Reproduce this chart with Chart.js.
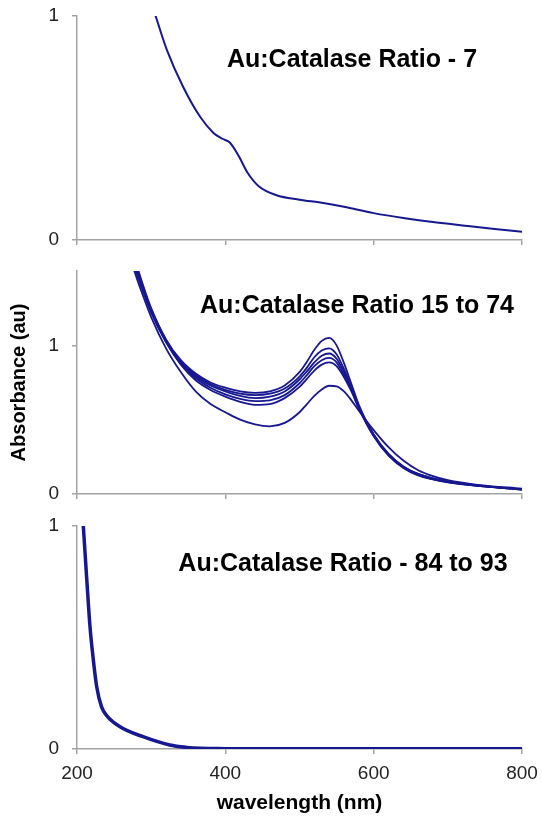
<!DOCTYPE html>
<html>
<head>
<meta charset="utf-8">
<title>Au:Catalase absorbance spectra</title>
<script src="https://cdn.jsdelivr.net/npm/chart.js@4.4.0/dist/chart.umd.min.js"></script>
<style>
    body {
        margin: 0;
        background: #fff;
        width: 542px;
        height: 823px;
        position: relative;
        overflow: hidden;
        font-family: "Liberation Sans", Arial, sans-serif;
    }
    .panel {
        position: absolute;
        left: 0;
        width: 542px;
    }
    .heading {
        position: absolute;
        font-weight: bold;
        font-size: 25px;
        line-height: 24px;
        color: #000;
        white-space: nowrap;
        transform: translateX(-50%);
        z-index: 2;
    }
</style>
</head>
<body>

<div class="panel" style="top:0px;height:252px;"><canvas id="ratio7Chart" width="542" height="252"></canvas></div>
<div class="panel" style="top:250px;height:256px;"><canvas id="ratio15Chart" width="542" height="256"></canvas></div>
<div class="panel" style="top:500px;height:323px;"><canvas id="ratio84Chart" width="542" height="323"></canvas></div>

<div class="heading" style="left:352px;top:46px;">Au:Catalase Ratio - 7</div>
<div class="heading" style="left:357px;top:292px;">Au:Catalase Ratio 15 to 74</div>
<div class="heading" style="left:343px;top:550px;">Au:Catalase Ratio - 84 to 93</div>

<script>
// Wavelength axis (nm)
const xTicks = [200, 400, 600, 800];

// Ratio 7 spectrum
const wl7 = [300, 306, 321, 343, 366, 384, 396, 406, 418, 430, 445, 469, 500, 530, 560, 600,
    640, 680, 720, 760, 800];
const abs7 = [1.06, 1.0, 0.85, 0.684, 0.55, 0.478, 0.452, 0.435, 0.375, 0.3, 0.24, 0.2, 0.18,
    0.166, 0.148, 0.12, 0.098, 0.08, 0.065, 0.05, 0.037];

// Ratio 15 to 74 spectra (shared wavelength grid)
const wl15 = [260, 270, 280, 290, 300, 320, 340, 360, 380, 400, 420, 440, 460, 480, 500, 510,
    520, 530, 540, 550, 560, 570, 580, 600, 620, 640, 660, 680, 700, 740, 800];
const absA = [1.95, 1.74, 1.55, 1.39, 1.25, 1.04, 0.9, 0.81, 0.75, 0.715, 0.69, 0.68, 0.69, 0.73,
    0.82, 0.89, 0.97, 1.03, 1.05, 1.0, 0.88, 0.74, 0.6, 0.4, 0.27, 0.185, 0.135, 0.105, 0.085, 0.058, 0.032];
const absB = [1.92, 1.72, 1.53, 1.38, 1.24, 1.035, 0.89, 0.8, 0.74, 0.7, 0.675, 0.665, 0.675, 0.71,
    0.79, 0.85, 0.92, 0.965, 0.98, 0.94, 0.84, 0.72, 0.59, 0.4, 0.27, 0.185, 0.135, 0.105, 0.085, 0.058, 0.032];
const absC = [1.89, 1.7, 1.52, 1.37, 1.235, 1.03, 0.885, 0.79, 0.73, 0.69, 0.66, 0.645, 0.655, 0.69,
    0.77, 0.825, 0.885, 0.93, 0.945, 0.91, 0.82, 0.71, 0.585, 0.395, 0.265, 0.18, 0.13, 0.1, 0.082, 0.056, 0.031];
const absD = [1.86, 1.68, 1.5, 1.36, 1.23, 1.025, 0.88, 0.78, 0.715, 0.67, 0.64, 0.625, 0.63, 0.665,
    0.745, 0.8, 0.86, 0.9, 0.915, 0.885, 0.8, 0.7, 0.58, 0.39, 0.26, 0.178, 0.128, 0.1, 0.08, 0.055, 0.031];
const absE = [1.83, 1.66, 1.49, 1.35, 1.22, 1.02, 0.87, 0.765, 0.7, 0.655, 0.62, 0.6, 0.605, 0.645,
    0.72, 0.775, 0.83, 0.87, 0.885, 0.86, 0.785, 0.69, 0.575, 0.39, 0.26, 0.175, 0.125, 0.098, 0.078, 0.054, 0.03];
const absF = [1.8, 1.62, 1.46, 1.32, 1.19, 0.98, 0.82, 0.69, 0.605, 0.55, 0.5, 0.468, 0.455, 0.478,
    0.55, 0.605, 0.66, 0.703, 0.728, 0.724, 0.69, 0.63, 0.56, 0.43, 0.315, 0.225, 0.16, 0.12, 0.093, 0.062, 0.036];

// Ratio 84 to 93 spectrum
const wl84 = [205, 208.5, 213, 217.5, 222, 226.5, 233, 240, 258, 289, 325, 348, 366, 390, 420, 500, 600, 700, 800];
const abs84 = [1.2, 1.0, 0.77, 0.55, 0.4, 0.28, 0.19, 0.15, 0.1, 0.055, 0.018, 0.007, 0.003, 0.002,
    0.001, 0.001, 0.001, 0.001, 0.001];

const lineColor = '#17178f';
const axisColor = '#a3a3a3';
const fontFamily = '"Liberation Sans", Arial, sans-serif';

/* Pairs a wavelength list with absorbance values for a line dataset */
const toPoints = (wl, abs) => wl.map((w, i) => ({ x: w, y: abs[i] }));

const makeDataset = (wl, abs, width) => ({
    data: toPoints(wl, abs),
    borderColor: lineColor,
    borderWidth: width,
    pointRadius: 0,
    tension: 0.4,
    cubicInterpolationMode: 'monotone',
    fill: false
});

/* Builds one stacked panel; all three share the same x range and plot width */
const buildPanel = (canvasId, datasets, yMax, panel) => {

    const config = {
        type: 'line',
        data: { datasets: datasets },
        options: {
            responsive: false,
            animation: false,
            events: [],
            layout: {
                padding: { top: panel.top, right: 20, bottom: 0, left: 0 }
            },
            plugins: {
                legend: { display: false },
                tooltip: { enabled: false }
            },
            scales: {
                x: {
                    type: 'linear',
                    min: 200,
                    max: 800,
                    afterBuildTicks: (scale) => {
                        scale.ticks = xTicks.map(v => ({ value: v }));
                    },
                    ticks: {
                        color: panel.showX ? '#222' : 'rgba(0,0,0,0)',
                        font: { family: fontFamily, size: 19 },
                        padding: 8,
                        maxRotation: 0
                    },
                    grid: {
                        drawOnChartArea: false,
                        drawTicks: true,
                        tickLength: 5,
                        color: axisColor,
                        lineWidth: 1.5
                    },
                    border: { color: axisColor, width: 1.5 },
                    title: {
                        display: panel.showX,
                        text: 'wavelength (nm)',
                        color: '#000',
                        font: { family: fontFamily, size: 21, weight: 'bold' },
                        padding: { top: 0, bottom: 7 }
                    },
                    afterFit: (scale) => {
                        scale.height = panel.xHeight;
                        scale.paddingLeft = 0;
                        scale.paddingRight = 0;
                    }
                },
                y: {
                    type: 'linear',
                    min: 0,
                    max: yMax,
                    afterBuildTicks: (scale) => {
                        scale.ticks = [{ value: 0 }, { value: 1 }];
                    },
                    ticks: {
                        color: '#222',
                        font: { family: fontFamily, size: 19 },
                        padding: 13
                    },
                    grid: {
                        drawOnChartArea: false,
                        drawTicks: true,
                        tickLength: 5,
                        color: axisColor,
                        lineWidth: 1.5
                    },
                    border: { color: axisColor, width: 1.5 },
                    title: {
                        display: panel.showY,
                        text: 'Absorbance (au)',
                        color: '#000',
                        font: { family: fontFamily, size: 20, weight: 'bold' },
                        padding: { top: 7, bottom: 0 }
                    },
                    afterFit: (scale) => {
                        scale.width = 77;
                        scale.paddingTop = 0;
                        scale.paddingBottom = 0;
                    }
                }
            }
        }
    };

    const ctx = document.getElementById(canvasId).getContext('2d');
    return new Chart(ctx, config);
}

const init = () => {

    buildPanel('ratio7Chart', [makeDataset(wl7, abs7, 2)], 1,
        { top: 16, xHeight: 12, showX: false, showY: false });

    buildPanel('ratio15Chart', [
        makeDataset(wl15, absA, 1.8),
        makeDataset(wl15, absB, 1.8),
        makeDataset(wl15, absC, 1.8),
        makeDataset(wl15, absD, 1.8),
        makeDataset(wl15, absE, 1.8),
        makeDataset(wl15, absF, 1.8)
    ], 1.5, { top: 21, xHeight: 12, showX: false, showY: true });

    buildPanel('ratio84Chart', [makeDataset(wl84, abs84, 3.5)], 1,
        { top: 26, xHeight: 74, showX: true, showY: false });
}

document.addEventListener("DOMContentLoaded", () => {
    init();
});
</script>
</body>
</html>
